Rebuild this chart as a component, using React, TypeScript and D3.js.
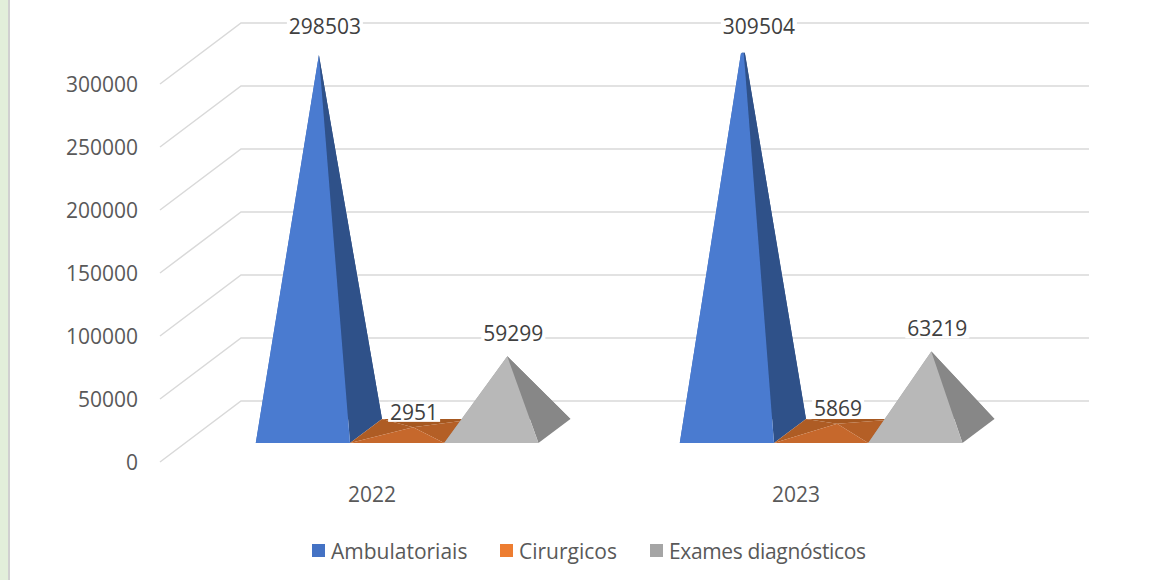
import React from "react";
import * as d3 from "d3";

const years = ["2022", "2023"];
const seriesNames = ["Ambulatoriais", "Cirurgicos", "Exames diagnósticos"];
const ambulatoriais = [298503, 309504];
const cirurgicos = [2951, 5869];
const exames = [59299, 63219];
const yTicks = [0, 50000, 100000, 150000, 200000, 250000, 300000];

const legendColors = ["#4472C4", "#ED7D31", "#A5A5A5"];
const faceColors = [
  { front: "#4A7BD0", right: "#2F5189", back: "#2B4B80", left: "#3F6CBA", top: "#5A8AD8" },
  { front: "#C6682C", right: "#B45F26", back: "#A65820", left: "#AE5C24", top: "#D0733A" },
  { front: "#B8B8B8", right: "#878787", back: "#7E7E7E", left: "#A3A3A3", top: "#C8C8C8" },
];

const W = 1153;
const H = 580;
const FONT = "'Open Sans', 'Noto Sans', sans-serif";

export default function App() {
  const seriesValues = [ambulatoriais, cirurgicos, exames];
  const left = 160;
  const right = 1008;
  const depthX = 81;
  const depthY = 61;
  const zFront = 0.31;
  const zBack = 0.705;
  const yMax = 300000;

  const y = d3.scaleLinear().domain([0, yMax]).range([462, 84]);
  const xBand = d3.scaleBand<string>().domain(years).range([left, right]).padding(0);
  const bw = xBand.bandwidth();
  const barW = bw / 4.5;

  const proj = (x: number, v: number, z: number): [number, number] => [
    x + depthX * z,
    y(v) - depthY * z,
  ];

  const pts = (arr: [number, number][]) => arr.map((p) => p.join(",")).join(" ");

  const pyramids: React.ReactNode[] = [];
  const labels: React.ReactNode[] = [];

  years.forEach((yr, ci) => {
    const center = (xBand(yr) as number) + bw / 2;
    const xSub = d3
      .scaleBand<string>()
      .domain(seriesNames)
      .range([center - 1.5 * barW, center + 1.5 * barW]);
    seriesNames.forEach((s, si) => {
      const v = seriesValues[si][ci];
      const x0 = xSub(s) as number;
      const x1 = x0 + xSub.bandwidth();
      const xc = (x0 + x1) / 2;
      const zc = (zFront + zBack) / 2;
      const vTop = Math.min(v, yMax);
      const k = 1 - vTop / v;
      const hx = ((x1 - x0) / 2) * k;
      const hz = ((zBack - zFront) / 2) * k;
      const FL = proj(x0, 0, zFront);
      const FR = proj(x1, 0, zFront);
      const BR = proj(x1, 0, zBack);
      const BL = proj(x0, 0, zBack);
      const TFL = proj(xc - hx, vTop, zc - hz);
      const TFR = proj(xc + hx, vTop, zc - hz);
      const TBR = proj(xc + hx, vTop, zc + hz);
      const TBL = proj(xc - hx, vTop, zc + hz);
      const c = faceColors[si];
      pyramids.push(
        <g key={`p-${ci}-${si}`}>
          <polygon points={pts([BL, BR, TBR, TBL])} fill={c.back} />
          <polygon points={pts([FL, BL, TBL, TFL])} fill={c.left} />
          <polygon points={pts([FR, BR, TBR, TFR])} fill={c.right} />
          <polygon points={pts([FL, FR, TFR, TFL])} fill={c.front} />
          {k > 0 && <polygon points={pts([TFL, TFR, TBR, TBL])} fill={c.top} />}
        </g>
      );
      const clipped = v > yMax;
      const apexX = (TFL[0] + TBR[0]) / 2;
      const apexY = (TFL[1] + TBR[1]) / 2;
      const lx = apexX + (v >= 50000 ? 6 : 1) + (clipped ? 10 : 0);
      const rawY = apexY - 15 - 8 * Math.min(1, v / 50000);
      const ly = rawY < 50 ? 26 : rawY;
      const txt = String(v);
      const tw = txt.length * 12;
      labels.push(
        <g key={`l-${ci}-${si}`}>
          <rect x={lx - tw / 2 - 2} y={ly - 10} width={tw + 4} height={20} fill="#FFFFFF" />
          <text
            x={lx}
            y={ly}
            textAnchor="middle"
            dominantBaseline="central"
            fontSize={21}
            fontFamily={FONT}
            fill="#404040"
          >
            {txt}
          </text>
        </g>
      );
    });
  });

  const legendItems = [
    { x: 312, tx: 331 },
    { x: 500, tx: 519 },
    { x: 650, tx: 669 },
  ];

  return (
    <svg
      width={W}
      height={H}
      style={{ position: "absolute", left: 0, top: 0, background: "#FFFFFF" }}
    >
      <rect x={0} y={0} width={8} height={H} fill="#E2EFDA" />
      <rect x={8} y={0} width={2} height={H} fill="#D0D0D0" />
      {yTicks.map((t) => {
        const f = proj(left, t, 0);
        const b = proj(left, t, 1);
        const bEnd = proj(right, t, 1);
        return (
          <g key={`g-${t}`}>
            <polyline
              points={pts([f, b, bEnd])}
              fill="none"
              stroke="#D9D9D9"
              strokeWidth={1.5}
            />
            <text
              x={138}
              y={f[1]}
              textAnchor="end"
              dominantBaseline="central"
              fontSize={21}
              fontFamily={FONT}
              fill="#595959"
            >
              {t}
            </text>
          </g>
        );
      })}
      {pyramids}
      {labels}
      {years.map((yr) => (
        <text
          key={`c-${yr}`}
          x={(xBand(yr) as number) + bw / 2}
          y={494}
          textAnchor="middle"
          dominantBaseline="central"
          fontSize={21}
          fontFamily={FONT}
          fill="#595959"
        >
          {yr}
        </text>
      ))}
      {seriesNames.map((s, i) => (
        <g key={`lg-${i}`}>
          <rect x={legendItems[i].x} y={544} width={13} height={13} fill={legendColors[i]} />
          <text
            x={legendItems[i].tx}
            y={550.5}
            dominantBaseline="central"
            fontSize={21}
            fontFamily={FONT}
            fill="#595959"
            textLength={i === 2 ? 197 : undefined}
          >
            {s}
          </text>
        </g>
      ))}
    </svg>
  );
}
